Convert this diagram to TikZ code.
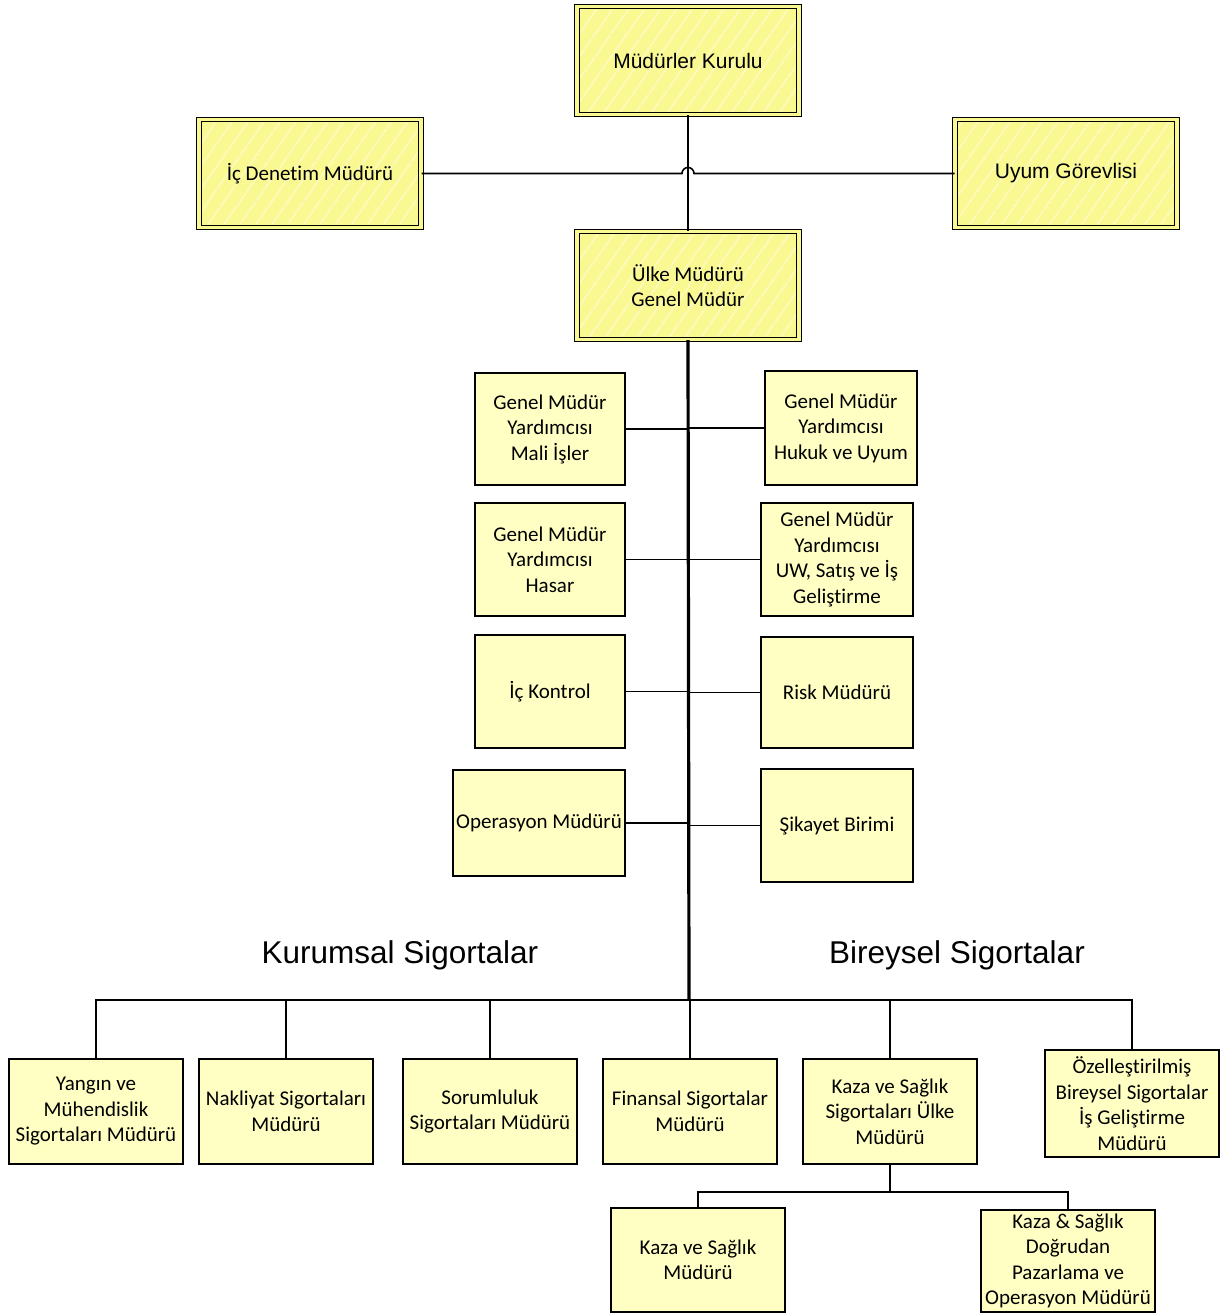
\documentclass[tikz,border=0pt]{standalone}
\usepackage{fontspec}
\setmainfont{Carlito}[Ligatures=NoCommon]
\newfontfamily\arialfont{Liberation Sans}
\usetikzlibrary{patterns.meta}

\definecolor{topfill}{RGB}{249,248,145}
\definecolor{topstripe}{RGB}{253,252,200}
\definecolor{boxfill}{RGB}{255,255,196}

\tikzset{
  unitbox/.style={draw, line width=1.3pt, fill=boxfill, inner sep=1pt,
    align=center, font=\fontsize{21}{25.5}\selectfont},
  topbox/.style={draw, line width=1pt, double=topfill, double distance=3.5pt,
    preaction={fill=topfill},
    pattern={Lines[angle=55, distance=13pt, line width=1.4pt]},
    pattern color=topstripe, inner sep=1pt, align=center,
    minimum width=222, minimum height=108,
    font=\fontsize{21}{25.5}\selectfont},
  link/.style={line width=1.6pt},
  trunk/.style={line width=3.2pt}
}

\begin{document}
\begin{tikzpicture}[x=1pt, y=-1pt]
  \useasboundingbox (0, 0) rectangle (1219, 1316);

  % Board and staff
  \node [topbox] (kurul) at (688, 60.5) {\arialfont Müdürler Kurulu};
  \node [topbox] (denetim) at (310, 173.5) {İç Denetim Müdürü};
  \node [topbox] (uyum) at (1066, 173.5) {\arialfont Uyum Görevlisi};
  \node [topbox] (ulke) at (688, 285.5) {Ülke Müdürü\\Genel Müdür};

  \draw [link] (kurul.south) -- (ulke.north);
  \draw [link] (denetim.east) -- ([xshift=-6pt]kurul.south |- denetim.east)
        arc [start angle=180, end angle=360, radius=6] -- (uyum.west);

  % Deputies, left
  \node [unitbox, minimum width=150, minimum height=112] (mali) at (550, 429)
        {Genel Müdür\\Yardımcısı\\Mali İşler};
  \node [unitbox, minimum width=150, minimum height=113] (hasar) at (550, 559.5)
        {Genel Müdür\\Yardımcısı\\Hasar};
  \node [unitbox, minimum width=150, minimum height=113] (kontrol) at (550, 691.5)
        {İç Kontrol};
  \node [unitbox, minimum width=172, minimum height=106] (operasyon) at (539, 823)
        {Operasyon Müdürü};

  % Deputies, right
  \node [unitbox, minimum width=152, minimum height=114] (hukuk) at (841, 428)
        {Genel Müdür\\Yardımcısı\\Hukuk ve Uyum};
  \node [unitbox, minimum width=152, minimum height=113] (satis) at (837, 559.5)
        {Genel Müdür\\Yardımcısı\\UW, Satış ve İş\\Geliştirme};
  \node [unitbox, minimum width=152, minimum height=111] (risk) at (837, 692.5)
        {Risk Müdürü};
  \node [unitbox, minimum width=152, minimum height=113] (sikayet) at (837, 825.5)
        {Şikayet Birimi};

  % Trunk
  \coordinate (bus) at (689, 1000);
  \foreach \unit in {mali, hasar, kontrol, operasyon}
    \draw [link] (\unit.east) -- (ulke.south |- \unit.east);
  \foreach \unit in {hukuk, satis, risk, sikayet}
    \draw [link] (\unit.west) -- (ulke.south |- \unit.west);
  \draw [trunk] (ulke.south) -- (bus);

  % Group titles
  \node [font=\arialfont\fontsize{31.5}{38}\selectfont] (kurumsal) at (400, 955)
        {Kurumsal Sigortalar};
  \node [font=\arialfont\fontsize{31.5}{38}\selectfont] (bireysel) at (957, 955)
        {Bireysel Sigortalar};

  % Lines of business
  \node [unitbox, minimum width=174, minimum height=105] (yangin) at (96, 1111.5)
        {Yangın ve\\Mühendislik\\Sigortaları Müdürü};
  \node [unitbox, minimum width=174, minimum height=105] (nakliyat) at (286, 1111.5)
        {Nakliyat Sigortaları\\Müdürü};
  \node [unitbox, minimum width=174, minimum height=105] (sorumluluk) at (490, 1111.5)
        {Sorumluluk\\Sigortaları Müdürü};
  \node [unitbox, minimum width=174, minimum height=105] (finansal) at (690, 1111.5)
        {Finansal Sigortalar\\Müdürü};
  \node [unitbox, minimum width=174, minimum height=105] (kaza) at (890, 1111.5)
        {Kaza ve Sağlık\\Sigortaları Ülke\\Müdürü};
  \node [unitbox, minimum width=174, minimum height=107] (ozel) at (1132, 1103.5)
        {Özelleştirilmiş\\Bireysel Sigortalar\\İş Geliştirme\\Müdürü};

  \draw [link] (yangin.north) |- (ozel.north |- bus) -- (ozel.north);
  \foreach \unit in {nakliyat, sorumluluk, finansal, kaza}
    \draw [link] (\unit.north) -- (\unit.north |- bus);

  % Accident and health
  \node [unitbox, minimum width=174, minimum height=104] (kazasaglik) at (698, 1260)
        {Kaza ve Sağlık\\Müdürü};
  \node [unitbox, minimum width=174, minimum height=102] (dogrudan) at (1068, 1261)
        {Kaza \& Sağlık\\Doğrudan\\Pazarlama ve\\Operasyon Müdürü};

  \coordinate (kazabus) at (890, 1192);
  \draw [link] (kaza.south) -- (kazabus);
  \draw [link] (kazasaglik.north) |- (kazabus) -| (dogrudan.north);
\end{tikzpicture}
\end{document}
